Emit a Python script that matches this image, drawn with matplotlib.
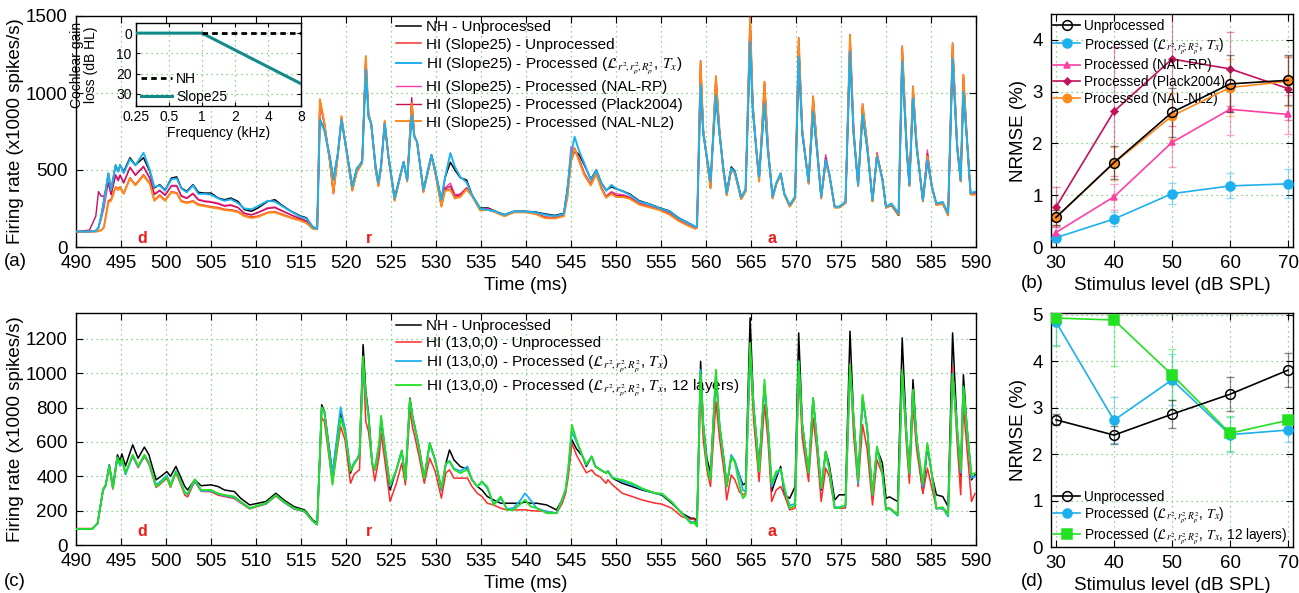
import numpy as np
import matplotlib
matplotlib.use('Agg')
import matplotlib.pyplot as plt

plt.rcParams['font.family'] = ['Liberation Sans', 'DejaVu Sans']
plt.rcParams['mathtext.fontset'] = 'stix'

# ---------------- (a) firing rates, Slope25 listener ----------------
t_a = ([490.0, 491.5, 492.2, 492.5, 492.8, 493.1, 493.6, 493.9, 494.4, 494.7,
        494.9, 495.3, 496.0, 496.6, 497.5, 498.2, 498.7, 499.3, 499.9, 500.6,
        501.2, 501.7, 502.3, 503.0, 503.6, 504.3, 505.0, 505.8, 506.5, 507.2,
        508.0, 508.7, 509.5, 510.2, 511.3, 512.1, 512.8, 513.9, 515.0, 515.6,
        516.3, 516.8]
       + [517.1, 517.6, 518.2, 518.6, 519.1, 519.5, 520.0, 520.7, 521.2, 521.5,
          521.8, 522.2, 522.5, 522.8, 523.3, 523.6, 523.9, 524.3, 524.7, 525.4,
          525.9, 526.4, 526.8, 527.3, 527.6, 527.9, 528.6, 529.5, 529.9, 530.6,
          531.0, 531.6, 532.1, 532.7, 533.4, 534.0, 534.9, 535.8, 536.6, 537.6,
          538.7, 539.9, 541.0, 542.1, 543.2, 544.2, 544.6, 545.0, 545.4, 545.9,
          546.5, 547.2, 547.8, 548.4, 548.9, 549.5, 550.0, 550.8, 551.5, 552.6,
          553.7, 554.8, 555.9, 557.0, 558.1, 558.8]
       + [559.0, 559.4, 559.7, 560.1, 560.5, 561.1, 561.5, 561.9, 562.3, 562.8,
          563.2, 563.6, 563.9, 564.4, 564.9, 565.2, 565.6, 565.9, 566.5, 566.9,
          567.4, 567.8, 568.3, 568.7, 569.3, 569.9, 570.3, 570.7, 571.4, 571.9,
          572.3, 572.8, 573.3, 573.7, 574.3, 574.8, 575.5, 576.0, 576.4, 576.9,
          577.4, 577.9, 578.5, 579.0, 579.6, 580.0, 580.6, 581.4, 581.8, 582.3,
          582.6, 583.0, 583.4, 584.1, 584.6, 585.1, 585.6, 586.3, 586.9, 587.4,
          587.9, 588.3, 588.6, 589.0, 589.4, 589.9])

nh_a = ([100, 100, 105, 125, 200, 300, 474, 370, 532, 490,
         532, 490, 580, 532, 580, 490, 383, 405, 370, 448,
         455, 383, 362, 405, 355, 350, 350, 318, 307, 318,
         296, 243, 232, 253, 296, 307, 275, 232, 200, 190,
         130, 121]
        + [830, 760, 586, 440, 610, 825, 651, 395, 510, 530,
           560, 1180, 846, 800, 520, 415, 530, 800, 595, 320,
           435, 552, 435, 860, 716, 683, 370, 600, 500, 305,
           450, 550, 500, 450, 435, 338, 253, 253, 232, 210,
           232, 232, 228, 215, 205, 219, 380, 560, 623, 600,
           530, 440, 500, 414, 370, 390, 378, 362, 345, 300,
           280, 255, 235, 188, 155, 132]
        + [128, 1040, 730, 580, 430, 980, 730, 530, 355, 520,
           495, 400, 325, 370, 1320, 880, 625, 455, 925, 610,
           330, 410, 475, 345, 270, 325, 1225, 730, 425, 870,
           645, 325, 555, 470, 258, 260, 285, 1255, 730, 400,
           855, 645, 300, 590, 445, 255, 270, 205, 1195, 625,
           405, 955, 645, 300, 560, 390, 275, 285, 212, 1215,
           645, 430, 1000, 690, 345, 355])

hi_a = ([100, 100, 100, 105, 110, 130, 300, 310, 390, 380,
         390, 350, 450, 405, 470, 415, 305, 338, 305, 360,
         352, 300, 290, 300, 278, 270, 262, 256, 245, 242,
         232, 205, 195, 200, 225, 230, 215, 192, 175, 160,
         120, 118]
        + [950, 800, 560, 355, 600, 840, 640, 370, 490, 520,
           550, 1220, 860, 800, 500, 400, 520, 810, 590, 305,
           430, 550, 430, 920, 720, 680, 360, 590, 490, 265,
           370, 375, 318, 330, 380, 335, 240, 245, 228, 205,
           228, 228, 220, 192, 188, 205, 330, 560, 635, 560,
           470, 405, 480, 380, 325, 350, 330, 328, 318, 280,
           262, 245, 218, 172, 140, 122]
        + [125, 1160, 750, 570, 385, 1070, 750, 510, 338, 500,
           482, 388, 312, 362, 1430, 915, 620, 430, 1040, 635,
           318, 408, 472, 342, 265, 318, 1310, 750, 415, 950,
           670, 318, 558, 468, 258, 258, 288, 1330, 750, 398,
           905, 670, 298, 600, 442, 258, 276, 212, 1260, 645,
           398, 1010, 665, 298, 590, 388, 275, 282, 208, 1280,
           665, 428, 1080, 695, 342, 345])

proc_a = ([100, 100, 105, 125, 200, 300, 480, 370, 530, 490,
           535, 480, 570, 530, 612, 500, 390, 400, 365, 440,
           445, 380, 355, 400, 345, 345, 340, 315, 300, 310,
           285, 250, 245, 265, 300, 295, 270, 230, 195, 185,
           128, 118]
          + [825, 755, 586, 435, 610, 825, 651, 392, 510, 530,
             555, 1150, 846, 800, 515, 415, 530, 800, 595, 316,
             435, 552, 435, 857, 716, 683, 370, 597, 500, 305,
             450, 610, 520, 455, 420, 338, 250, 240, 232, 208,
             232, 230, 225, 210, 200, 215, 370, 600, 716, 623,
             540, 435, 500, 414, 365, 403, 380, 360, 340, 295,
             278, 252, 232, 186, 154, 132]
          + [130, 1052, 737, 586, 424, 987, 737, 520, 349, 511,
             490, 394, 323, 373, 1333, 890, 630, 456, 933, 610,
             327, 413, 478, 349, 273, 327, 1236, 737, 424, 879,
             650, 327, 565, 478, 262, 262, 293, 1268, 737, 403,
             861, 650, 305, 586, 435, 262, 283, 219, 1203, 630,
             403, 965, 650, 305, 565, 394, 283, 293, 219, 1225,
             650, 435, 1008, 693, 349, 360])

nalrp_a = ([100, 100, 105, 130, 180, 250, 420, 340, 470, 440,
            470, 420, 520, 470, 525, 450, 345, 370, 340, 400,
            400, 335, 320, 350, 310, 300, 295, 285, 270, 275,
            258, 220, 210, 225, 255, 260, 240, 210, 185, 170,
            125, 118]
           + [940, 795, 560, 345, 605, 835, 645, 372, 492, 522,
              552, 1230, 860, 800, 502, 402, 522, 812, 592, 308,
              432, 556, 432, 925, 722, 682, 362, 592, 492, 270,
              385, 415, 340, 345, 385, 338, 245, 248, 230, 208,
              230, 230, 222, 196, 192, 208, 380, 651, 640, 575,
              480, 410, 490, 385, 330, 360, 345, 340, 325, 285,
              266, 248, 222, 176, 142, 124]
           + [126, 1190, 755, 572, 388, 1100, 755, 512, 340, 505,
              485, 390, 315, 365, 1470, 920, 622, 432, 1060, 638,
              320, 412, 480, 345, 268, 322, 1340, 755, 418, 965,
              675, 320, 600, 475, 262, 262, 292, 1360, 755, 400,
              915, 675, 300, 615, 445, 260, 280, 215, 1290, 648,
              400, 1030, 668, 300, 630, 392, 278, 285, 210, 1310,
              668, 430, 1105, 698, 345, 350])

plack_a = ([100, 110, 200, 360, 330, 330, 415, 340, 465, 430,
            465, 415, 515, 465, 520, 445, 340, 365, 335, 395,
            395, 330, 315, 345, 305, 295, 290, 280, 265, 270,
            255, 218, 208, 222, 250, 255, 236, 207, 182, 168,
            122, 118]
           + [955, 800, 555, 348, 600, 845, 642, 368, 488, 518,
              548, 1235, 865, 802, 498, 398, 518, 815, 590, 304,
              428, 552, 428, 970, 722, 680, 358, 590, 488, 266,
              378, 395, 330, 338, 382, 336, 242, 246, 228, 204,
              228, 228, 218, 192, 188, 204, 340, 600, 640, 565,
              472, 406, 484, 380, 326, 352, 335, 332, 320, 280,
              262, 244, 218, 172, 138, 120]
           + [125, 1210, 760, 570, 382, 1110, 760, 510, 336, 500,
              480, 386, 312, 362, 1495, 930, 620, 426, 1075, 640,
              316, 408, 472, 342, 263, 316, 1360, 760, 412, 980,
              680, 316, 580, 468, 258, 258, 288, 1380, 760, 396,
              930, 680, 296, 605, 440, 256, 276, 212, 1305, 650,
              396, 1045, 670, 296, 605, 386, 274, 282, 206, 1325,
              670, 426, 1120, 700, 342, 342])

nalnl2_a = ([100, 100, 100, 103, 108, 125, 290, 300, 385, 370,
             385, 345, 445, 400, 462, 410, 300, 332, 300, 355,
             348, 295, 285, 295, 272, 265, 257, 250, 240, 236,
             226, 200, 188, 195, 222, 225, 210, 188, 170, 155,
             118, 115]
            + [960, 805, 555, 350, 595, 850, 640, 365, 485, 515,
               545, 1240, 870, 805, 495, 395, 515, 820, 590, 300,
               425, 548, 425, 935, 720, 678, 355, 588, 485, 262,
               365, 370, 315, 325, 375, 330, 238, 242, 225, 200,
               225, 225, 215, 188, 185, 200, 320, 555, 640, 558,
               465, 400, 475, 375, 320, 345, 325, 324, 314, 275,
               258, 240, 212, 168, 136, 118]
            + [125, 1203, 760, 570, 380, 1106, 760, 510, 335, 500,
               480, 385, 310, 360, 1485, 930, 620, 424, 1071, 640,
               315, 405, 470, 340, 262, 315, 1355, 760, 410, 976,
               680, 315, 555, 465, 255, 255, 285, 1376, 760, 395,
               925, 680, 295, 600, 440, 255, 275, 210, 1300, 650,
               395, 1041, 670, 295, 590, 385, 272, 280, 205, 1321,
               670, 425, 1117, 700, 340, 340])

# ---------------- (c) firing rates, HI (13,0,0) listener ----------------
t_c = ([490.0, 491.8, 492.4, 493.0, 493.3, 493.7, 494.1, 494.6, 494.9, 495.1,
        495.5, 496.3, 496.9, 497.6, 498.1, 498.9, 499.4, 500.1, 500.5, 501.1,
        501.5, 502.1, 502.4, 503.2, 503.9, 505.0, 505.8, 506.5, 507.6, 508.3,
        509.3, 510.2, 511.1, 512.2, 513.1, 514.2, 515.4, 516.3, 516.8]
       + [517.3, 517.6, 518.5, 519.4, 519.9, 520.5, 520.9, 521.3, 521.5, 521.9,
          522.2, 522.5, 522.9, 523.2, 523.7, 523.9, 524.3, 524.9, 525.6, 526.2,
          526.6, 527.1, 527.4, 527.6, 528.1, 528.7, 529.3, 529.9, 530.6, 531.1,
          531.5, 532.0, 532.7, 533.5, 534.0, 534.6, 535.1, 535.7, 536.4, 537.2,
          537.9, 538.6, 539.4, 539.9, 540.5, 541.2, 542.3, 543.4, 544.0, 544.4,
          544.7, 545.1, 545.6, 546.3, 546.7, 547.3, 547.7, 548.2, 548.9, 549.1,
          549.6, 550.7, 551.8, 552.9, 554.4, 555.1, 556.2, 557.3, 558.3, 558.7]
       + [559.0, 559.4, 559.7, 560.1, 560.5, 561.1, 561.5, 562.1, 562.3, 562.8,
          563.2, 563.7, 564.1, 564.4, 564.9, 565.3, 565.6, 565.9, 566.5, 566.9,
          567.3, 567.8, 568.3, 568.7, 569.3, 569.9, 570.3, 570.7, 571.4, 571.9,
          572.3, 572.8, 573.3, 573.7, 574.3, 574.8, 575.5, 576.0, 576.4, 576.9,
          577.4, 577.9, 578.5, 579.0, 579.6, 580.0, 580.4, 581.3, 581.8, 582.3,
          582.6, 583.0, 583.4, 584.1, 584.6, 585.1, 585.6, 586.3, 586.9, 587.4,
          587.9, 588.3, 588.6, 589.0, 589.5, 589.9])

nh_c = ([93, 93, 126, 320, 350, 466, 340, 525, 490, 530,
         460, 583, 505, 570, 525, 379, 398, 427, 400, 457,
         410, 340, 320, 379, 345, 350, 340, 320, 311, 272,
         233, 243, 253, 301, 262, 224, 204, 146, 126]
        + [816, 778, 418, 767, 670, 418, 476, 505, 534, 1166,
           894, 767, 476, 437, 573, 720, 573, 320, 437, 550,
           379, 855, 748, 700, 573, 388, 593, 495, 320, 476,
           553, 495, 457, 440, 379, 340, 320, 282, 262, 243,
           243, 243, 243, 250, 243, 243, 233, 204, 262, 320,
           420, 612, 560, 515, 457, 515, 457, 440, 418, 430,
           389, 359, 340, 320, 301, 290, 243, 185, 156, 155]
        + [140, 1069, 700, 505, 418, 991, 700, 447, 340, 510,
           486, 408, 350, 360, 1322, 797, 622, 457, 930, 680,
           311, 390, 457, 292, 272, 340, 1234, 700, 418, 855,
           622, 320, 544, 466, 262, 292, 292, 1244, 739, 379,
           855, 680, 292, 560, 476, 272, 280, 253, 1205, 622,
           418, 962, 622, 301, 570, 408, 292, 282, 224, 1234,
           680, 398, 991, 680, 379, 408])

hi_c = ([96, 96, 126, 315, 345, 455, 325, 505, 465, 500,
         415, 515, 450, 515, 470, 335, 355, 390, 335, 420,
         370, 290, 280, 370, 312, 310, 290, 282, 270, 245,
         210, 225, 238, 285, 248, 210, 193, 140, 118]
        + [740, 720, 359, 690, 610, 359, 410, 430, 437, 1059,
           720, 660, 476, 373, 520, 651, 495, 254, 359, 476,
           350, 787, 680, 640, 520, 359, 505, 430, 273, 420,
           437, 389, 389, 389, 340, 301, 282, 243, 233, 214,
           204, 204, 205, 205, 200, 198, 196, 185, 240, 300,
           400, 593, 524, 457, 420, 437, 410, 398, 359, 380,
           350, 301, 282, 262, 243, 238, 214, 165, 150, 150]
        + [110, 923, 610, 437, 340, 836, 622, 389, 262, 408,
           380, 311, 292, 300, 1118, 720, 544, 369, 816, 600,
           253, 320, 340, 292, 204, 215, 1010, 620, 369, 739,
           560, 253, 447, 400, 214, 214, 215, 1050, 640, 340,
           700, 560, 233, 496, 410, 215, 215, 180, 1000, 560,
           359, 807, 560, 301, 447, 330, 214, 210, 190, 1040,
           600, 292, 807, 560, 253, 300])

proc_c = ([93, 93, 126, 320, 350, 462, 330, 510, 460, 500,
           410, 520, 455, 520, 480, 350, 370, 405, 350, 430,
           385, 305, 295, 375, 315, 315, 298, 288, 276, 250,
           214, 228, 240, 290, 250, 212, 196, 138, 118]
          + [800, 775, 410, 802, 670, 437, 480, 505, 535, 1040,
             860, 750, 480, 440, 590, 740, 570, 340, 437, 545,
             379, 840, 740, 690, 570, 388, 590, 495, 325, 470,
             490, 445, 430, 457, 379, 340, 369, 330, 240, 270,
             210, 215, 262, 301, 262, 214, 194, 185, 262, 320,
             440, 661, 600, 515, 465, 515, 460, 440, 420, 430,
             395, 370, 350, 325, 300, 295, 250, 185, 135, 135]
          + [115, 1020, 700, 470, 390, 1000, 700, 447, 340, 525,
             490, 408, 320, 310, 1118, 797, 622, 430, 920, 680,
             340, 410, 445, 320, 230, 240, 1069, 700, 418, 850,
             622, 330, 540, 440, 220, 220, 225, 1030, 739, 360,
             860, 680, 292, 565, 420, 205, 212, 170, 1000, 622,
             418, 890, 622, 340, 580, 408, 210, 215, 165, 1000,
             680, 420, 910, 680, 390, 400])

proc12_c = ([93, 93, 126, 320, 350, 460, 330, 510, 470, 505,
             420, 525, 460, 525, 480, 340, 360, 398, 340, 427,
             380, 301, 300, 383, 320, 320, 300, 291, 282, 253,
             214, 230, 243, 291, 253, 215, 198, 140, 120]
            + [800, 770, 350, 740, 650, 430, 470, 500, 530, 1098,
               870, 750, 480, 437, 600, 753, 573, 350, 437, 550,
               379, 850, 740, 700, 573, 388, 593, 495, 330, 476,
               486, 440, 418, 440, 379, 340, 369, 340, 233, 282,
               204, 204, 240, 262, 225, 214, 185, 185, 262, 320,
               450, 700, 612, 515, 470, 515, 457, 440, 418, 430,
               389, 379, 359, 330, 301, 300, 250, 185, 126, 130]
            + [107, 1001, 700, 460, 379, 1020, 700, 447, 340, 510,
               486, 350, 272, 290, 1176, 797, 622, 428, 962, 680,
               359, 428, 440, 340, 214, 230, 1069, 700, 418, 855,
               622, 335, 544, 437, 214, 214, 233, 1050, 739, 379,
               875, 680, 292, 573, 420, 204, 215, 175, 1020, 622,
               418, 904, 622, 359, 593, 408, 214, 220, 175, 991,
               680, 437, 923, 680, 408, 420])

# ---------------- (b), (d) NRMSE vs level ----------------
levels = [30, 40, 50, 60, 70]

unproc_b = [0.57, 1.63, 2.60, 3.15, 3.22]
unproc_b_err = [0.15, 0.32, 0.47, 0.55, 0.48]
proc_b = [0.18, 0.54, 1.03, 1.18, 1.22]
proc_b_err = [0.08, 0.14, 0.20, 0.24, 0.28]
nalrp_b = [0.28, 0.97, 2.02, 2.66, 2.56]
nalrp_b_err = [0.12, 0.25, 0.47, 0.50, 0.37]
plack_b = [0.77, 2.62, 3.63, 3.44, 3.06]
plack_b_err = [0.38, 1.25, 1.30, 0.72, 0.60]
nalnl2_b = [0.57, 1.62, 2.53, 3.08, 3.20]
nalnl2_b_err = [0.15, 0.32, 0.45, 0.55, 0.48]

unproc_d = [2.74, 2.41, 2.86, 3.29, 3.81]
unproc_d_err = [0.12, 0.20, 0.30, 0.37, 0.37]
proc_d = [4.85, 2.73, 3.60, 2.42, 2.52]
proc_d_err = [0.50, 0.50, 0.55, 0.38, 0.25]
proc12_d = [4.93, 4.89, 3.71, 2.45, 2.73]
proc12_d_err = [0.60, 1.00, 0.55, 0.38, 0.05]

# inset audiogram
freqs = [0.25, 0.5, 1, 2, 4, 8]
nh_loss = [0, 0, 0, 0, 0, 0]
slope25_loss = [0, 0, 0, 25 / 3, 50 / 3, 25]

C_NH = 'black'
C_HI = '#f2352b'
C_PROC = '#1db0ee'
C_RP = '#ff3fa4'
C_PLACK = '#c4105c'
C_NL2 = '#ff8a1c'
C_12 = '#22e022'
C_GRID = '#6ec46e'

W, H = 1299, 593
fig = plt.figure(figsize=(W / 100, H / 100), dpi=100)


def box(l, t, r, b):
    return [l / W, 1 - b / H, (r - l) / W, (b - t) / H]


def style(ax, size=13.5):
    ax.grid(True, color=C_GRID, linestyle=(0, (1, 3)), linewidth=0.9)
    ax.tick_params(direction='in', length=5, top=True, right=True,
                   labelsize=size, pad=6)
    for s in ax.spines.values():
        s.set_linewidth(1.0)


ax_a = fig.add_axes(box(76, 16, 976, 247))
ax_b = fig.add_axes(box(1051, 14, 1293, 247))
ax_c = fig.add_axes(box(76, 313, 976, 545))
ax_d = fig.add_axes(box(1051, 313, 1293, 547))

LBL_L = r'$\mathcal{L}_{r^2\!,r_p^2\!,R_p^2}$'

# (a)
ax_a.plot(t_a, nh_a, color=C_NH, lw=1.1, label='NH - Unprocessed', zorder=3)
ax_a.plot(t_a, hi_a, color=C_HI, lw=1.1, label='HI (Slope25) - Unprocessed', zorder=4)
ax_a.plot(t_a, proc_a, color=C_PROC, lw=1.4, zorder=9,
          label='HI (Slope25) - Processed (' + LBL_L + r', $T_x$)')
ax_a.plot(t_a, nalrp_a, color=C_RP, lw=1.0, label='HI (Slope25) - Processed (NAL-RP)', zorder=5)
ax_a.plot(t_a, plack_a, color=C_PLACK, lw=1.0, label='HI (Slope25) - Processed (Plack2004)', zorder=6)
ax_a.plot(t_a, nalnl2_a, color=C_NL2, lw=1.4, label='HI (Slope25) - Processed (NAL-NL2)', zorder=7)
ax_a.set_xlim(490, 590)
ax_a.set_ylim(0, 1500)
ax_a.set_xticks(np.arange(490, 591, 5))
ax_a.set_yticks([0, 500, 1000, 1500])
style(ax_a)
ax_a.set_xlabel('Time (ms)', fontsize=13.5, labelpad=3)
ax_a.set_ylabel('Firing rate (x1000 spikes/s)', fontsize=13.5)
ax_a.yaxis.set_label_coords(-0.058, 0.5)
ax_a.legend(loc='upper left', bbox_to_anchor=(396 / W, 1 - 20 / H),
            bbox_transform=fig.transFigure, frameon=False, fontsize=11,
            handlelength=1.65, handletextpad=0.3, labelspacing=0.25,
            borderpad=0, borderaxespad=0)

# phoneme markers
for ax, yv in ((ax_a, 58), (ax_c, 76)):
    for tx, ph in ((497.4, 'd'), (522.6, 'r'), (567.3, 'a')):
        ax.text(tx, yv, ph, color='#ee1c1c', fontsize=11.5, fontweight='bold',
                ha='center', va='center', zorder=10)

# inset audiogram
ax_in = fig.add_axes(box(136, 23, 301, 106))
ax_in.set_xscale('log', base=2)
ax_in.plot(freqs[2:], nh_loss[2:], color='black', lw=2.0, ls=(0, (2, 1.5)), label='NH', zorder=4)
ax_in.plot(freqs, slope25_loss, color='#138a8a', lw=2.2, label='Slope25', zorder=3)
ax_in.set_xlim(0.25, 8)
ax_in.set_ylim(36, -5)
ax_in.set_xticks(freqs)
ax_in.set_xticklabels(['0.25', '0.5', '1', '2', '4', '8'])
ax_in.minorticks_off()
ax_in.set_yticks([0, 10, 20, 30])
style(ax_in, size=10)
ax_in.tick_params(length=3, pad=3)
ax_in.set_xlabel('Frequency (kHz)', fontsize=10, labelpad=1)
ax_in.set_ylabel('Cochlear gain\nloss (dB HL)', fontsize=10, linespacing=1.0)
ax_in.yaxis.set_label_coords(-0.23, 0.5)
ax_in.legend(loc='lower left', bbox_to_anchor=(0.03, 0.02), frameon=False,
             fontsize=10, handlelength=2.2, handletextpad=0.35, labelspacing=0.3,
             borderpad=0, borderaxespad=0)

# (c)
ax_c.plot(t_c, nh_c, color=C_NH, lw=1.1, label='NH - Unprocessed', zorder=3)
ax_c.plot(t_c, hi_c, color='#ff2a2a', lw=1.1, label='HI (13,0,0) - Unprocessed', zorder=4)
ax_c.plot(t_c, proc_c, color=C_PROC, lw=1.3, zorder=5,
          label='HI (13,0,0) - Processed (' + LBL_L + r', $T_x$)')
ax_c.plot(t_c, proc12_c, color=C_12, lw=1.3, zorder=6,
          label='HI (13,0,0) - Processed (' + LBL_L + r', $T_x$, 12 layers)')
ax_c.set_xlim(490, 590)
ax_c.set_ylim(0, 1350)
ax_c.set_xticks(np.arange(490, 591, 5))
ax_c.set_yticks(np.arange(0, 1201, 200))
style(ax_c)
ax_c.set_xlabel('Time (ms)', fontsize=13.5, labelpad=3)
ax_c.set_ylabel('Firing rate (x1000 spikes/s)', fontsize=13.5)
ax_c.yaxis.set_label_coords(-0.058, 0.5)
ax_c.legend(loc='upper left', bbox_to_anchor=(396 / W, 1 - 319 / H),
            bbox_transform=fig.transFigure, frameon=False, fontsize=11,
            handlelength=1.65, handletextpad=0.3, labelspacing=0.22,
            borderpad=0, borderaxespad=0)


def nrmse(ax, y, e, color, marker, label, ms=6, mfc=None, z=3):
    eb = ax.errorbar(levels, y, yerr=e, color=color, ecolor=color, elinewidth=0.9,
                     capsize=3, lw=0, zorder=z - 1)
    for art in eb.lines[1] + eb.lines[2]:
        art.set_alpha(0.45)
    ax.plot(levels, y, color=color, lw=1.2, marker=marker, ms=ms,
            mfc=mfc if mfc else color, mec=color, mew=1.1, label=label, zorder=z)


# (b)
nrmse(ax_b, unproc_b, unproc_b_err, 'black', 'o', 'Unprocessed', ms=7, mfc='none', z=8)
nrmse(ax_b, proc_b, proc_b_err, C_PROC, 'o', 'Processed (' + LBL_L + r', $T_x$)', ms=6.5)
nrmse(ax_b, nalrp_b, nalrp_b_err, C_RP, '^', 'Processed (NAL-RP)', ms=4.5)
nrmse(ax_b, plack_b, plack_b_err, C_PLACK, 'D', 'Processed (Plack2004)', ms=3.5)
nrmse(ax_b, nalnl2_b, nalnl2_b_err, C_NL2, 'o', 'Processed (NAL-NL2)', ms=6, z=7)
ax_b.set_xlim(29.15, 70.85)
ax_b.set_ylim(0, 4.5)
ax_b.set_xticks(levels)
ax_b.set_yticks([0, 1, 2, 3, 4])
style(ax_b)
ax_b.set_xlabel('Stimulus level (dB SPL)', fontsize=13.5, labelpad=3)
ax_b.set_ylabel('NRMSE (%)', fontsize=13.5)
ax_b.yaxis.set_label_coords(-0.1, 0.5)
ax_b.legend(loc='upper left', bbox_to_anchor=(1053 / W, 1 - 19 / H),
            bbox_transform=fig.transFigure, frameon=False, fontsize=9.8,
            handlelength=2.0, handletextpad=0.25, labelspacing=0.2,
            borderpad=0, borderaxespad=0)

# (d)
nrmse(ax_d, unproc_d, unproc_d_err, 'black', 'o', 'Unprocessed', ms=7, mfc='none', z=8)
nrmse(ax_d, proc_d, proc_d_err, C_PROC, 'o', 'Processed (' + LBL_L + r', $T_x$)', ms=6.5)
nrmse(ax_d, proc12_d, proc12_d_err, C_12, 's', 'Processed (' + LBL_L + r', $T_x$, 12 layers)', ms=6.5, z=5)
ax_d.set_xlim(29.15, 70.85)
ax_d.set_ylim(0, 5.04)
ax_d.set_xticks(levels)
ax_d.set_yticks([0, 1, 2, 3, 4, 5])
style(ax_d)
ax_d.set_xlabel('Stimulus level (dB SPL)', fontsize=13.5, labelpad=3)
ax_d.set_ylabel('NRMSE (%)', fontsize=13.5)
ax_d.yaxis.set_label_coords(-0.1, 0.5)
ax_d.legend(loc='lower left', bbox_to_anchor=(1053 / W, 1 - 546 / H),
            bbox_transform=fig.transFigure, frameon=False, fontsize=9.8,
            handlelength=2.0, handletextpad=0.25, labelspacing=0.1,
            borderpad=0, borderaxespad=0)

# panel letters
for x, y, s in ((4, 262, '(a)'), (1021, 283, '(b)'), (4, 581, '(c)'), (1021, 581, '(d)')):
    fig.text(x / W, 1 - y / H, s, fontsize=13.5, ha='left', va='center')

fig.savefig('out.png', dpi=100)
